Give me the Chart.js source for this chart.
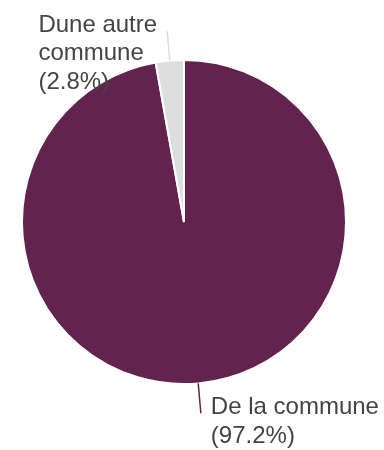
<!DOCTYPE html>
<html lang="fr">
<head>
<meta charset="utf-8">
<script src="https://cdn.jsdelivr.net/npm/chart.js@4/dist/chart.umd.min.js"></script>
<style>
  html, body { margin: 0; padding: 0; background: #fff; }
  #wrap { width: 384px; height: 450px; }
</style>
</head>
<body>
<div id="wrap"><canvas id="chart" width="384" height="450"></canvas></div>
<script>
// données du graphique
const categories = ['De la commune', 'Dune autre commune'];
const values = [97.2, 2.8];
const sliceColors = ['#62234f', '#dedede'];

const LABEL_FONT = '24px "Liberation Sans", Arial, sans-serif';
const LABEL_COLOR = '#444';
const LINE_HEIGHT = 28.5;
const LEADER_LEN = 30;
const MAX_LABEL_WIDTH = 180;

// découpe un libellé en lignes selon la largeur max
function wrapText(ctx, text, maxWidth) {
  const words = text.split(' ');
  const lines = [];
  let cur = '';
  words.forEach(w => {
    const test = cur ? cur + ' ' + w : w;
    if (cur && ctx.measureText(test).width > maxWidth) {
      lines.push(cur);
      cur = w;
    } else {
      cur = test;
    }
  });
  if (cur) lines.push(cur);
  return lines;
}

// libellés extérieurs avec trait de rappel
const outsideLabels = {
  id: 'outsideLabels',
  afterDatasetsDraw(chart) {
    const ctx = chart.ctx;
    const meta = chart.getDatasetMeta(0);
    ctx.save();
    ctx.font = LABEL_FONT;
    meta.data.forEach((arc, i) => {
      const p = arc.getProps(['x', 'y', 'startAngle', 'endAngle', 'outerRadius'], true);
      const mid = (p.startAngle + p.endAngle) / 2;
      const cos = Math.cos(mid), sin = Math.sin(mid);
      const x0 = p.x + cos * p.outerRadius;
      const y0 = p.y + sin * p.outerRadius;
      const x1 = p.x + cos * (p.outerRadius + LEADER_LEN);
      const y1 = p.y + sin * (p.outerRadius + LEADER_LEN);

      ctx.beginPath();
      ctx.strokeStyle = sliceColors[i];
      ctx.lineWidth = 1.5;
      ctx.moveTo(x0, y0);
      ctx.lineTo(x1, y1);
      ctx.stroke();

      const lines = wrapText(ctx, categories[i], MAX_LABEL_WIDTH);
      lines.push('(' + values[i].toFixed(1) + '%)');
      const blockW = Math.max(...lines.map(l => ctx.measureText(l).width));
      const left = cos >= 0 ? x1 + 10 : x1 - 10 - blockW;

      ctx.fillStyle = LABEL_COLOR;
      ctx.textAlign = 'left';
      ctx.textBaseline = 'alphabetic';
      lines.forEach((l, k) => {
        ctx.fillText(l, left, y1 + 1 + k * LINE_HEIGHT);
      });
    });
    ctx.restore();
  }
};

new Chart(document.getElementById('chart'), {
  type: 'pie',
  data: {
    labels: categories,
    datasets: [{
      data: values,
      backgroundColor: sliceColors,
      borderColor: '#ffffff',
      borderWidth: 2,
    }],
  },
  options: {
    responsive: false,
    animation: false,
    layout: { padding: { left: 21, right: 37, top: 59, bottom: 65 } },
    plugins: {
      legend: { display: false },
      tooltip: { enabled: false },
    },
  },
  plugins: [outsideLabels],
});
</script>
</body>
</html>
